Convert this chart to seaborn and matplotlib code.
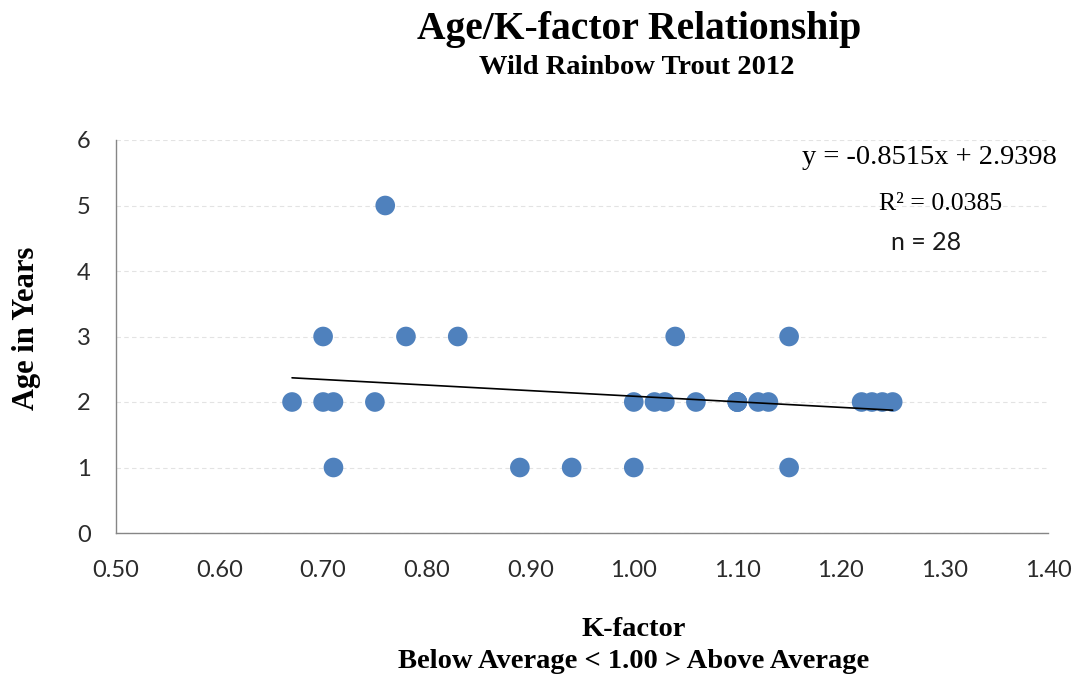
import matplotlib
matplotlib.use("Agg")
import matplotlib.pyplot as plt
import seaborn as sns
import pandas as pd

# Data
k_factor = [0.71, 0.89, 0.94, 1.00, 1.15,
            0.67, 0.70, 0.71, 0.75, 1.00, 1.02, 1.03, 1.06, 1.10, 1.10, 1.10,
            1.12, 1.13, 1.22, 1.23, 1.24, 1.25,
            0.70, 0.78, 0.83, 1.04, 1.15,
            0.76]
age = [1, 1, 1, 1, 1,
       2, 2, 2, 2, 2, 2, 2, 2, 2, 2, 2,
       2, 2, 2, 2, 2, 2,
       3, 3, 3, 3, 3,
       5]
x_ticks = [0.50, 0.60, 0.70, 0.80, 0.90, 1.00, 1.10, 1.20, 1.30, 1.40]
y_ticks = [0, 1, 2, 3, 4, 5, 6]

title = "Age/K-factor Relationship"
subtitle = "Wild Rainbow Trout 2012"
xlabel1 = "K-factor"
xlabel2 = "Below Average < 1.00 > Above Average"
ylabel = "Age in Years"
eq_text = "y = -0.8515x + 2.9398"
r2_text = "R² = 0.0385"
n_text = "n = 28"

df = pd.DataFrame({"K": k_factor, "Age": age})

sns.set_theme(style="white")
plt.rcParams['font.family'] = ['Lato', 'DejaVu Sans']

W, H = 1077, 675
fig = plt.figure(figsize=(W / 100, H / 100), dpi=100)
L, R, T, B = 116, 1048, 140, 533
ax = fig.add_axes([L / W, 1 - B / H, (R - L) / W, (B - T) / H])

sns.scatterplot(data=df, x="K", y="Age", ax=ax, color="#4F81BD", s=200,
                edgecolor="none", zorder=3, linewidth=0)
sns.regplot(data=df, x="K", y="Age", ax=ax, scatter=False, ci=None,
            line_kws=dict(color="black", lw=1.2, zorder=4))

ax.set_xlim(0.5, 1.4)
ax.set_ylim(0, 6)
ax.set_xticks(x_ticks)
ax.set_xticklabels([f"{v:.2f}" for v in x_ticks])
ax.set_yticks(y_ticks)
ax.set_yticklabels([str(v) for v in y_ticks])
ax.tick_params(axis="both", labelsize=17, colors="#868686",
               labelcolor="#2b2b2b", length=7.2, width=1, direction="out")
ax.tick_params(axis="x", pad=12)
ax.tick_params(axis="y", pad=11)

for side in ["top", "right"]:
    ax.spines[side].set_visible(False)
for side in ["left", "bottom"]:
    ax.spines[side].set_color("#868686")
    ax.spines[side].set_linewidth(1)

ax.yaxis.grid(True, color="#E3E3E3", linestyle=(0, (4, 3)), linewidth=0.8)
ax.set_axisbelow(True)
ax.set_xlabel("")
ax.set_ylabel("")

serif = ['Liberation Serif', 'DejaVu Serif']
fig.text(639 / W, 1 - 30 / H, title, ha="center", va="center", color="black",
         fontsize=28.5, fontweight="bold", family=serif)
fig.text(637 / W, 1 - 68 / H, subtitle, ha="center", va="center", color="black",
         fontsize=20.5, fontweight="bold", family=serif)
fig.text(634 / W, 1 - 630 / H, xlabel1, ha="center", va="center", color="black",
         fontsize=20.5, fontweight="bold", family=serif)
fig.text(634 / W, 1 - 661 / H, xlabel2, ha="center", va="center", color="black",
         fontsize=20.5, fontweight="bold", family=serif)
fig.text(27 / W, 1 - 328 / H, ylabel, ha="center", va="center", rotation=90,
         color="black", fontsize=22, fontweight="bold", family=serif)

fig.text(929 / W, 1 - 157 / H, eq_text, ha="center", va="center", color="black",
         fontsize=20.5, family=serif)
fig.text(941 / W, 1 - 204 / H, r2_text, ha="center", va="center", color="black",
         fontsize=18.5, family=serif)
fig.text(926 / W, 1 - 243 / H, n_text, ha="center", va="center",
         fontsize=18, color="#1a1a1a")

fig.savefig("out.png", dpi=100)
